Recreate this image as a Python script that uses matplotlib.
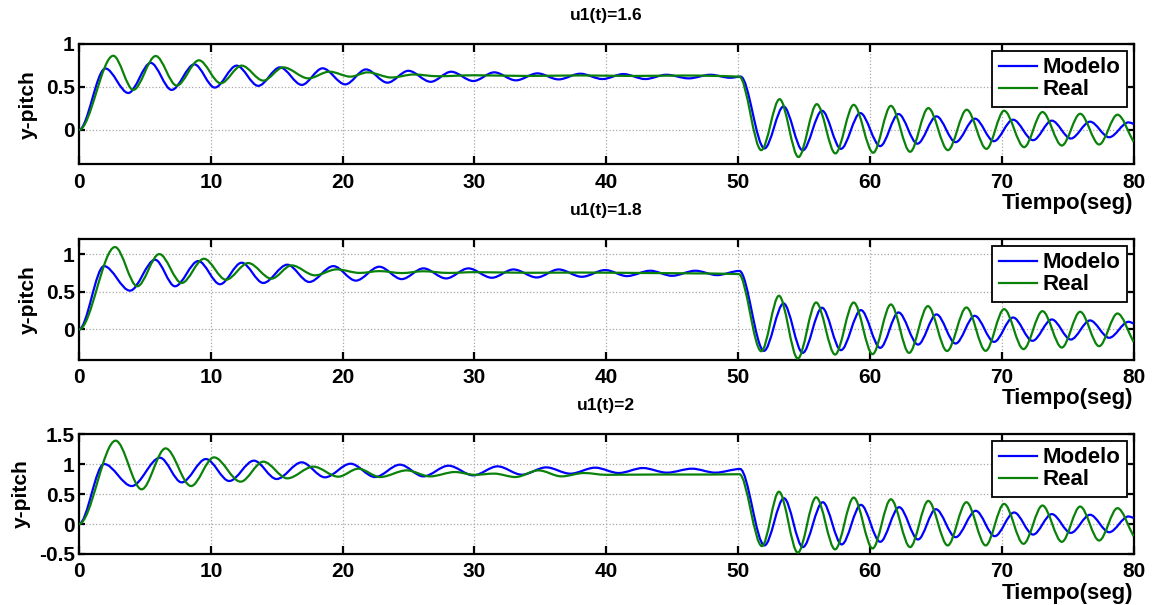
import numpy as np
import matplotlib
matplotlib.use("Agg")
import matplotlib.pyplot as plt
from matplotlib.path import Path
from matplotlib.patches import PathPatch
from matplotlib.lines import Line2D

# --- data (peaks / troughs / knees) ---
titles = ["u1(t)=1.6", "u1(t)=1.8", "u1(t)=2"]
xticks = [0, 10, 20, 30, 40, 50, 60, 70, 80]
ylims = [(-0.4, 1.0), (-0.4, 1.2), (-0.5, 1.5)]
yticks = [[0, 0.5, 1], [0, 0.5, 1], [-0.5, 0, 0.5, 1, 1.5]]
ytick_labels = [["0", "0.5", "1"], ["0", "0.5", "1"], ["-0.5", "0", "0.5", "1", "1.5"]]

t_modelo_16 = [0, 2.0, 3.74, 5.44, 7.03, 8.75, 10.3, 11.96, 13.6, 15.25, 16.9, 18.48, 20.2,
               21.77, 23.4, 24.99, 26.68, 28.23, 29.92, 31.5, 33.14, 34.78, 36.38, 38.03,
               39.72, 41.3, 42.96, 44.56, 46.25, 47.9, 49.4, 50.2, 52.0, 53.45, 54.9, 56.37,
               57.8, 59.27, 60.78, 62.17, 63.6, 65.05, 66.5, 67.97, 69.4, 70.86, 72.38, 73.8,
               75.24, 76.7, 78.15, 79.62, 80]
y_modelo_16 = [0, 0.715, 0.43, 0.78, 0.466, 0.763, 0.493, 0.748, 0.513, 0.728, 0.524, 0.717, 0.53,
               0.704, 0.55, 0.688, 0.56, 0.677, 0.569, 0.67, 0.577, 0.658, 0.588, 0.654,
               0.592, 0.65, 0.592, 0.642, 0.6, 0.642, 0.607, 0.62, -0.215, 0.273, -0.238, 0.223,
               -0.22, 0.196, -0.188, 0.185, -0.16, 0.158, -0.142, 0.131, -0.131, 0.119, -0.119, 0.108,
               -0.1, 0.096, -0.085, 0.088, 0.07]
t_real_16 = [0, 2.6, 4.12, 5.82, 7.41, 9.1, 10.75, 12.34, 13.98, 15.5, 17.4, 19.0, 20.6,
             21.9, 23.7, 25.4, 27.2, 30, 34, 38, 42, 46, 50.1, 51.76, 53.15, 54.58, 55.97,
             57.38, 58.77, 60.25, 61.59, 63.05, 64.43, 65.92, 67.34, 68.84, 70.18, 71.7, 73.09,
             74.56, 75.95, 77.39, 78.78, 80]
y_real_16 = [0, 0.863, 0.466, 0.86, 0.516, 0.81, 0.543, 0.748, 0.574, 0.728, 0.6, 0.678, 0.62,
             0.67, 0.61, 0.645, 0.625, 0.636, 0.628, 0.634, 0.628, 0.633, 0.62, -0.235, 0.358, -0.315, 0.3,
             -0.273, 0.292, -0.265, 0.28, -0.254, 0.254, -0.235, 0.235, -0.22, 0.223, -0.2, 0.208,
             -0.181, 0.188, -0.169, 0.177, -0.138]

t_modelo_18 = [0, 1.9, 3.87, 5.77, 7.28, 9.05, 10.7, 12.34, 13.98, 15.8, 17.47, 19.3, 21.0,
               22.78, 24.48, 26.13, 27.85, 29.54, 31.32, 32.96, 34.73, 36.38, 38.15, 39.92,
               41.57, 43.34, 44.99, 46.76, 48.4, 50.1, 51.96, 53.45, 54.9, 56.37, 57.8, 59.32,
               60.78, 62.17, 63.65, 65.05, 66.5, 67.95, 69.42, 70.86, 72.33, 73.8, 75.24, 76.7,
               78.15, 79.62, 80]
y_modelo_18 = [0, 0.84, 0.515, 0.925, 0.573, 0.907, 0.6, 0.885, 0.617, 0.859, 0.63, 0.84, 0.648,
               0.832, 0.668, 0.81, 0.677, 0.81, 0.686, 0.796, 0.69, 0.796, 0.699, 0.788,
               0.708, 0.779, 0.712, 0.779, 0.721, 0.776, -0.283, 0.345, -0.31, 0.288, -0.274, 0.257,
               -0.243, 0.226, -0.2, 0.2, -0.186, 0.181, -0.164, 0.159, -0.15, 0.133, -0.133, 0.12,
               -0.11, 0.102, 0.08]
t_real_18 = [0, 2.73, 4.42, 6.09, 7.79, 9.48, 11.15, 12.84, 14.6, 16.13, 17.9, 19.54, 21.3,
             22.8, 24.5, 26.1, 28, 30, 34, 38, 42, 46, 50.05, 51.76, 53.1, 54.53, 55.92, 57.36,
             58.77, 60.2, 61.59, 62.97, 64.4, 65.85, 67.32, 68.78, 70.18, 71.65, 73.09, 74.56,
             75.95, 77.39, 78.78, 80]
y_real_18 = [0, 1.093, 0.573, 1.0, 0.617, 0.938, 0.66, 0.881, 0.674, 0.85, 0.718, 0.797, 0.75,
             0.774, 0.748, 0.772, 0.75, 0.76, 0.752, 0.755, 0.75, 0.745, 0.735, -0.288, 0.447, -0.385,
             0.358, -0.332, 0.358, -0.327, 0.332, -0.31, 0.31, -0.285, 0.292, -0.283, 0.27, -0.26,
             0.243, -0.239, 0.235, -0.221, 0.212, -0.164]

t_modelo_20 = [0, 1.9, 4.0, 6.14, 7.79, 9.63, 11.4, 13.27, 14.99, 16.89, 18.66, 20.6, 22.46,
               24.35, 26.13, 28.03, 29.92, 31.75, 33.6, 35.44, 37.27, 39.16, 40.94, 42.78,
               44.6, 46.5, 48.28, 50.15, 52.0, 53.48, 54.91, 56.42, 57.86, 59.32, 60.78, 62.22,
               63.65, 65.0, 66.5, 68.03, 69.47, 70.94, 72.38, 73.8, 75.24, 76.7, 78.15, 79.62, 80]
y_modelo_20 = [0, 1.0, 0.633, 1.105, 0.694, 1.083, 0.717, 1.056, 0.75, 1.028, 0.778, 1.005, 0.783,
               0.989, 0.794, 0.972, 0.811, 0.961, 0.822, 0.944, 0.839, 0.939, 0.85, 0.933,
               0.856, 0.922, 0.856, 0.917, -0.357, 0.429, -0.385, 0.363, -0.34, 0.319, -0.297, 0.28,
               -0.258, 0.247, -0.22, 0.22, -0.203, 0.192, -0.176, 0.165, -0.148, 0.154, -0.137, 0.126, 0.1]
t_real_20 = [0, 2.78, 4.75, 6.57, 8.5, 10.24, 12.26, 13.98, 15.8, 17.78, 19.67, 21.19, 22.84,
             24.86, 26.63, 28.53, 30.0, 31.5, 33.1, 34.86, 36.6, 38.3, 40, 44, 48, 50.1, 51.81,
             53.1, 54.53, 55.92, 57.36, 58.77, 60.2, 61.59, 63.05, 64.43, 65.9, 67.32, 68.78,
             70.18, 71.65, 73.09, 74.56, 75.95, 77.39, 78.78, 80]
y_real_20 = [0, 1.389, 0.578, 1.261, 0.633, 1.111, 0.706, 1.039, 0.761, 0.956, 0.789, 0.922, 0.783,
             0.894, 0.794, 0.867, 0.82, 0.84, 0.783, 0.894, 0.794, 0.85, 0.82, 0.825, 0.825, 0.83, -0.368,
             0.538, -0.478, 0.445, -0.423, 0.44, -0.407, 0.412, -0.385, 0.385, -0.357, 0.363, -0.357,
             0.335, -0.33, 0.308, -0.297, 0.291, -0.275, 0.264, -0.203]

series = [
    (t_modelo_16, y_modelo_16, t_real_16, y_real_16),
    (t_modelo_18, y_modelo_18, t_real_18, y_real_18),
    (t_modelo_20, y_modelo_20, t_real_20, y_real_20),
]

BLUE = "#0000ff"
GREEN = "#0a820a"


def smooth_path(t, y):
    # monotone cubic through the read points, handed to matplotlib as bezier segments
    t = np.asarray(t, float)
    y = np.asarray(y, float)
    d = np.diff(y) / np.diff(t)
    m = np.zeros_like(y)
    for i in range(1, len(y) - 1):
        if d[i - 1] * d[i] > 0:
            m[i] = 2.0 / (1.0 / d[i - 1] + 1.0 / d[i])
    m[-1] = d[-1]
    verts = [(t[0], y[0])]
    codes = [Path.MOVETO]
    for i in range(len(t) - 1):
        h = t[i + 1] - t[i]
        verts.append((t[i] + h / 3, y[i] + m[i] * h / 3))
        verts.append((t[i + 1] - h / 3, y[i + 1] - m[i + 1] * h / 3))
        verts.append((t[i + 1], y[i + 1]))
        codes += [Path.CURVE4] * 3
    return Path(verts, codes)


def style_axes(ax, k):
    ax.set_xlim(0, 80)
    ax.set_ylim(*ylims[k])
    ax.set_xticks(xticks)
    ax.set_xticklabels([str(v) for v in xticks])
    ax.set_yticks(yticks[k])
    ax.set_yticklabels(ytick_labels[k])
    ax.grid(True, linestyle=":", color="#a8a8a8", linewidth=0.9)
    ax.set_axisbelow(True)
    for s in ax.spines.values():
        s.set_linewidth(1.6)
    ax.tick_params(axis="x", direction="in", length=6, width=1.6, top=True,
                   labelsize=15, pad=6)
    ax.tick_params(axis="y", direction="in", length=4, width=1.6, right=True,
                   labelsize=15, pad=3)
    ax.set_title(titles[k], fontsize=12.5, fontweight="bold", pad=17)
    ax.set_ylabel("y-pitch", fontsize=15, fontweight="bold", labelpad=6)
    ax.set_xlabel("Tiempo(seg)", fontsize=16, fontweight="bold", loc="right", labelpad=1)


def main():
    plt.rcParams["font.family"] = ["Liberation Sans", "DejaVu Sans"]
    plt.rcParams["font.weight"] = "bold"

    fig = plt.figure(figsize=(11.6, 6.05), dpi=100)
    boxes = [
        [0.0681, 0.7284, 0.9091, 0.1989],
        [0.0681, 0.4055, 0.9091, 0.1995],
        [0.0681, 0.0843, 0.9091, 0.1983],
    ]

    for k, box in enumerate(boxes):
        ax = fig.add_axes(box)
        tm, ym, tr, yr = series[k]
        ax.add_patch(PathPatch(smooth_path(tm, ym), fill=False, edgecolor=BLUE, linewidth=1.6, zorder=3))
        ax.add_patch(PathPatch(smooth_path(tr, yr), fill=False, edgecolor=GREEN, linewidth=1.6, zorder=3))
        style_axes(ax, k)

        handles = [Line2D([], [], color=BLUE, linewidth=1.6),
                   Line2D([], [], color=GREEN, linewidth=1.6)]
        leg = ax.legend(handles, ["Modelo", "Real"], loc="upper right", fontsize=16,
                        fancybox=False, framealpha=1, edgecolor="black",
                        handlelength=1.7, handletextpad=0.25, labelspacing=0.05,
                        borderpad=0.3, borderaxespad=0.3)
        leg.get_frame().set_linewidth(1.3)
        leg.set_zorder(5)

    fig.savefig("out.png", dpi=100, facecolor="white")
    plt.close(fig)


if __name__ == "__main__":
    main()
